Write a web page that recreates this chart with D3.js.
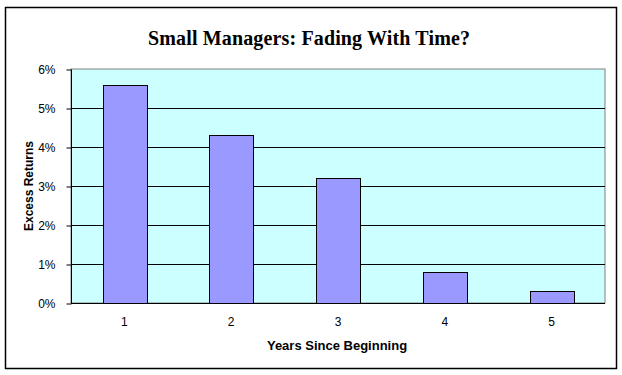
<!DOCTYPE html>
<html>
<head>
<meta charset="utf-8">
<script src="https://cdn.jsdelivr.net/npm/d3@7"></script>
<style>
  body { margin: 0; background: #fff; }
  svg { display: block; }
</style>
</head>
<body>
<div id="chart"></div>
<script>
// chart data
const years = ["1", "2", "3", "4", "5"];
const excessReturns = [0.056, 0.043, 0.032, 0.008, 0.003];
const yTicks = [0, 0.01, 0.02, 0.03, 0.04, 0.05, 0.06];

const width = 622;
const height = 375;

// plot area
const plot = { left: 71, right: 605, top: 69, bottom: 303 };

const svg = d3.select("#chart")
    .append("svg")
    .attr("width", width)
    .attr("height", height);

// outer frame
svg.append("rect")
    .attr("x", 5.5).attr("y", 7.5)
    .attr("width", 611).attr("height", 361)
    .attr("fill", "#fff")
    .attr("stroke", "#000")
    .attr("stroke-width", 1.5);

// title
svg.append("text")
    .attr("x", 309).attr("y", 45)
    .attr("text-anchor", "middle")
    .style("font-family", "'Liberation Serif', 'Times New Roman', serif")
    .style("font-weight", "bold")
    .style("font-size", "20px")
    .attr("textLength", 322)
    .text("Small Managers: Fading With Time?");

const x = d3.scaleBand()
    .domain(years)
    .range([plot.left, plot.right])
    .paddingInner(0.59)
    .paddingOuter(0.295);

const y = d3.scaleLinear()
    .domain([0, 0.06])
    .range([plot.bottom, plot.top]);

// background of plot area
svg.append("rect")
    .attr("x", plot.left).attr("y", plot.top)
    .attr("width", plot.right - plot.left)
    .attr("height", plot.bottom - plot.top)
    .attr("fill", "#ccffff")
    .attr("stroke", "#808080")
    .attr("stroke-width", 1);

// gridlines
svg.append("g")
    .selectAll("line")
    .data(yTicks.slice(1, -1))
    .enter()
    .append("line")
    .attr("x1", plot.left).attr("x2", plot.right)
    .attr("y1", d => Math.round(y(d)) + 0.5)
    .attr("y2", d => Math.round(y(d)) + 0.5)
    .attr("stroke", "#000");

// bars
svg.append("g")
    .selectAll("rect")
    .data(excessReturns)
    .enter()
    .append("rect")
    .attr("x", (d, i) => Math.round(x(years[i])) + 0.5)
    .attr("y", d => Math.round(y(d)) + 0.5)
    .attr("width", Math.round(x.bandwidth()))
    .attr("height", d => Math.round(y(0)) - Math.round(y(d)))
    .attr("fill", "#9999ff")
    .attr("stroke", "#000")
    .attr("stroke-width", 1);

// y axis
const yAxis = d3.axisLeft(y)
    .tickValues(yTicks)
    .tickFormat(d3.format(".0%"))
    .tickSize(5)
    .tickPadding(11);

const yg = svg.append("g")
    .attr("transform", "translate(" + (plot.left + 0.5) + ",0.5)")
    .call(yAxis);
yg.select(".domain").attr("stroke", "#000").attr("d", "M0," + plot.top + "V" + plot.bottom);
yg.selectAll("text")
    .style("font-family", "Arial, 'Liberation Sans', sans-serif")
    .style("font-size", "12px")
    .attr("fill", "#000");

// x axis
const xAxis = d3.axisBottom(x)
    .tickSize(0)
    .tickPadding(14);

const xg = svg.append("g")
    .attr("transform", "translate(0," + (plot.bottom + 0.5) + ")")
    .call(xAxis);
xg.select(".domain").attr("stroke", "#000").attr("d", "M" + plot.left + ",0H" + plot.right);
xg.selectAll("text")
    .style("font-family", "Arial, 'Liberation Sans', sans-serif")
    .style("font-size", "12px")
    .attr("fill", "#000");

// axis titles
svg.append("text")
    .attr("x", 337).attr("y", 350)
    .attr("text-anchor", "middle")
    .style("font-family", "Arial, 'Liberation Sans', sans-serif")
    .style("font-weight", "bold")
    .style("font-size", "13px")
    .text("Years Since Beginning");

svg.append("text")
    .attr("transform", "translate(33," + ((plot.top + plot.bottom) / 2) + ") rotate(-90)")
    .attr("text-anchor", "middle")
    .style("font-family", "Arial, 'Liberation Sans', sans-serif")
    .style("font-weight", "bold")
    .style("font-size", "12px")
    .text("Excess Returns");
</script>
</body>
</html>
